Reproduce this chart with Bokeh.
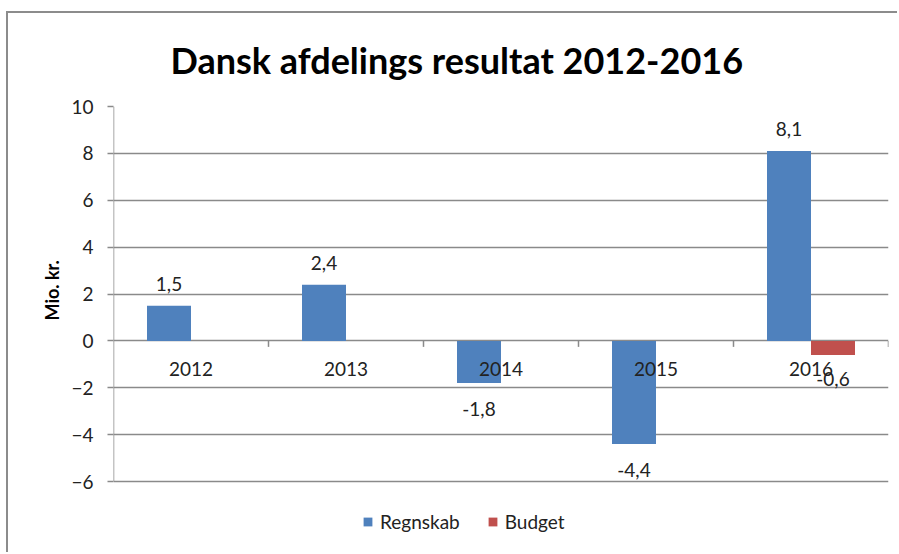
from bokeh.plotting import figure
from bokeh.models import ColumnDataSource, Range1d, FixedTicker, Legend, LegendItem, Title
from bokeh.transform import dodge
from bokeh.core.properties import value
from bokeh.embed import file_html
from bokeh.resources import INLINE

# ---- data ----
years = ["2012", "2013", "2014", "2015", "2016"]
regnskab = [1.5, 2.4, -1.8, -4.4, 8.1]
budget = [None, None, None, None, -0.6]
y_ticks = [-6, -4, -2, 0, 2, 4, 6, 8, 10]
title_text = "Dansk afdelings resultat 2012-2016"
y_label = "Mio. kr."
series_names = ["Regnskab", "Budget"]

FONT = "Lato"
FS = "19px"
BLUE = "#4F81BD"
RED = "#C0504D"
GRID = "#8A8A8A"
BAR_W = 44 / 155

# geometry (pixels)
FIG_W, FIG_H = 891, 541
TOP_BORDER = 93          # space above plotting area (title)
PLOT_H = 375             # height of the tick range (-6..10)
px_per_unit = PLOT_H / (y_ticks[-1] - y_ticks[0])
frame_h = FIG_H - TOP_BORDER
y_min_ext = y_ticks[-1] - frame_h / px_per_unit   # extra room below for legend
tick_len = 6 / px_per_unit

idx = list(range(len(years)))

def fmt(v):
    return ("%.1f" % v).replace(".", ",")

src_r = ColumnDataSource(dict(x=idx, top=regnskab, year=years))
bx = [i for i, v in zip(idx, budget) if v is not None]
bv = [v for v in budget if v is not None]
src_b = ColumnDataSource(dict(x=bx, top=bv))

lab_r = ColumnDataSource(dict(x=idx, y=regnskab, t=[fmt(v) for v in regnskab],
                              off=[-22 if v >= 0 else 26 for v in regnskab]))
lab_b = ColumnDataSource(dict(x=bx, y=bv, t=[fmt(v) for v in bv],
                              off=[-22 if v >= 0 else 24 for v in bv]))
cat_src = ColumnDataSource(dict(x=idx, y=[0] * len(idx), t=years))
bounds = [i + 0.5 for i in idx]
tick_src = ColumnDataSource(dict(x=bounds, y0=[0] * len(bounds),
                                 y1=[-tick_len] * len(bounds)))
yaxis_src = ColumnDataSource(dict(x=[-0.5], y0=[y_ticks[0]], y1=[y_ticks[-1]]))

p = figure(width=FIG_W, height=FIG_H, output_backend="svg", toolbar_location=None,
           x_range=Range1d(-0.5, len(years) - 0.5),
           y_range=Range1d(y_min_ext, y_ticks[-1]),
           min_border_left=105, min_border_right=11,
           min_border_top=TOP_BORDER, min_border_bottom=0)
p.margin = (11, 0, 0, 6)
p.styles = {"border-top": "2px solid #8C8C8C", "border-left": "2px solid #8C8C8C"}
p.outline_line_color = None
p.background_fill_color = "white"
p.border_fill_color = "white"

# title
p.title.text = title_text
p.title.align = "left"
p.title.offset = 57
p.title.standoff = 46
p.title.vertical_align = "top"
p.title.text_font = FONT
p.title.text_font_style = "bold"
p.title.text_font_size = "36px"
p.title.text_color = "#000000"

# grid
p.xgrid.grid_line_color = None
p.ygrid.grid_line_color = GRID
p.ygrid.grid_line_width = 1.5
p.ygrid.ticker = FixedTicker(ticks=y_ticks)

# y axis
p.yaxis.ticker = FixedTicker(ticks=y_ticks)
p.yaxis.major_label_text_font = FONT
p.yaxis.major_label_text_font_size = FS
p.yaxis.major_label_text_color = "#222222"
p.yaxis.major_tick_out = 6
p.yaxis.major_tick_in = 0
p.yaxis.minor_tick_line_color = None
p.yaxis.axis_line_color = None
p.yaxis.major_tick_line_color = GRID
p.yaxis.major_tick_line_width = 1.5
p.yaxis.major_label_standoff = 14
p.xaxis.visible = False

# y-axis title, placed next to the tick range
ytitle = Title(text=y_label, align="left", offset=234, standoff=12,
               text_font=FONT, text_font_style="bold", text_font_size="18px",
               text_color="#000000")
p.add_layout(ytitle, "left")

# visible y-axis line (only over the tick range) and category-boundary ticks at 0
p.segment(x0="x", y0="y0", x1="x", y1="y1", source=yaxis_src,
          line_color=GRID, line_width=1.5)
p.segment(x0="x", y0="y0", x1="x", y1="y1", source=tick_src,
          line_color=GRID, line_width=1.5)

# bars
r1 = p.vbar(x=dodge("x", -BAR_W / 2, range=p.x_range), top="top", bottom=0,
            width=BAR_W, source=src_r, fill_color=BLUE, line_color=None)
r2 = p.vbar(x=dodge("x", BAR_W / 2, range=p.x_range), top="top", bottom=0,
            width=BAR_W, source=src_b, fill_color=RED, line_color=None)

# category labels at zero line
p.text(x="x", y="y", text="t", source=cat_src, y_offset=28,
       text_align="center", text_baseline="middle",
       text_font=value(FONT), text_font_size=FS, text_color="#222222")

# data labels
p.text(x=dodge("x", -BAR_W / 2, range=p.x_range), y="y", text="t", source=lab_r,
       y_offset="off", text_align="center", text_baseline="middle",
       text_font=value(FONT), text_font_size=FS, text_color="#222222")
p.text(x=dodge("x", BAR_W / 2, range=p.x_range), y="y", text="t", source=lab_b,
       y_offset="off", text_align="center", text_baseline="middle",
       text_font=value(FONT), text_font_size=FS, text_color="#222222")

# legend (inside the lower part of the frame)
legend = Legend(items=[LegendItem(label=series_names[0], renderers=[r1]),
                       LegendItem(label=series_names[1], renderers=[r2])],
                location=(249, 21), orientation="horizontal",
                glyph_width=11, glyph_height=11, label_text_font=FONT,
                label_text_font_size=FS, label_text_color="#222222",
                spacing=27, label_standoff=7, padding=0, margin=0,
                border_line_color=None, background_fill_alpha=0)
p.add_layout(legend, "center")

open("out.html", "w").write(file_html(p, INLINE))
